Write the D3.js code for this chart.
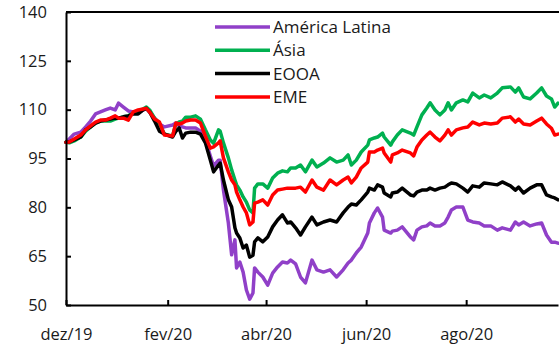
<!DOCTYPE html>
<html><head><meta charset="utf-8">
<script src="https://cdn.jsdelivr.net/npm/d3@7/dist/d3.min.js"></script>
<style>
body{margin:0;background:#fff}
text{font-family:"Open Sans",sans-serif}
</style>
</head><body>
<svg id="c" width="559" height="346"></svg>
<script>
const startDate = new Date(2019, 11, 1);
const endDate = new Date(2020, 8, 26);
const days = [0,2,5,9,12,15,18,21,24,27,
30,32,35,38,41,44,47,49,51,54,
57,60,65,67,69,71,73,76,79,82,
85,88,90,93,94,96,99,101,103,104,
106,108,110,112,114,115,117,120,123,126,
129,132,135,137,140,143,146,150,153,157,
161,165,169,172,174,177,180,184,185,188,
190,193,194,198,199,202,205,210,212,214,
217,220,222,225,228,231,233,235,238,242,
245,248,252,255,259,263,266,271,274,276,
279,283,287,290,293,296,298,300];

const americaLatina = [100,101.0,102.5,103.1,104.7,106.5,108.7,109.3,109.9,110.5,
109.9,112.0,110.8,109.6,109.3,109.0,109.9,110.4,109.3,107.4,
105.6,104.7,105.3,105.9,105.0,104.7,104.4,104.4,104.4,103.4,
100.7,95.8,92.7,94.5,94.5,85.3,75.2,65.4,70.0,61.4,
63.2,60.1,54.6,51.8,53.7,61.4,60.1,58.6,56.1,59.8,
61.7,63.2,62.9,63.8,62.6,58.6,56.8,63.8,60.8,60.1,
60.8,58.6,60.8,62.9,63.8,66.0,67.8,72.1,75.2,78.3,
79.8,77.0,73.0,72.1,72.7,73.0,74.0,70.9,70.0,73.0,
74.0,74.3,75.2,74.3,74.3,75.2,77.0,79.2,80.1,80.1,
76.1,75.5,75.2,74.3,74.3,73.0,73.7,73.0,75.5,74.6,
75.5,74.3,74.9,75.2,71.5,69.3,69.3,69.0];

const asia = [100,99.8,100.4,101.6,103.4,104.7,105.9,106.5,106.5,106.5,
107.1,107.4,107.8,108.1,109.0,109.6,110.2,110.8,109.9,107.4,
105.6,102.5,101.9,105.6,106.2,106.5,107.7,107.7,108.1,107.1,
103.8,100.7,99.7,103.8,103.4,99.8,95.2,91.5,88.4,86.9,
85.3,83.2,81.6,79.2,78.3,85.9,87.2,87.2,85.9,89.0,
90.5,91.2,90.9,92.1,92.1,93.0,90.9,94.5,92.4,93.6,
95.2,93.9,94.5,96.1,93.0,94.5,97.0,99.1,100.7,101.3,
101.6,102.8,101.6,99.1,100.1,102.2,103.8,102.8,102.2,104.7,
108.4,110.5,112.1,109.9,108.4,109.9,112.1,109.9,112.1,113.0,
112.4,115.1,113.6,114.5,113.6,115.1,116.7,117.0,115.4,116.7,
113.9,113.3,115.1,116.7,114.2,113.3,110.8,112.0];

const eooa = [100,100.1,100.7,101.6,103.8,104.7,105.9,106.5,106.8,107.1,
107.4,107.4,107.8,108.1,108.7,108.7,109.9,110.4,109.3,106.5,
103.4,102.5,101.6,103.4,104.4,101.3,102.8,103.1,103.1,102.5,
99.8,94.5,90.9,93.0,93.6,88.4,82.3,80.1,73.7,72.1,
70.6,67.5,68.4,64.7,65.3,69.4,70.6,69.4,70.9,74.0,
76.1,77.7,75.2,75.5,73.7,71.5,74.0,77.0,74.6,75.5,
76.1,75.5,78.3,80.1,81.0,80.7,82.3,84.7,85.9,85.3,
86.9,86.2,84.4,83.2,84.4,84.7,85.9,83.8,83.5,84.7,
85.3,85.3,85.9,85.3,85.9,86.2,86.9,87.5,87.2,85.9,
84.7,86.6,86.2,87.5,87.2,86.9,87.8,86.6,85.3,86.2,
84.4,85.9,86.9,86.9,83.8,83.2,82.9,82.3];

const eme = [100,100.1,101.0,102.2,103.8,105.0,106.2,106.8,106.8,107.4,
108.1,107.4,107.4,106.8,109.3,109.9,110.2,110.4,109.3,107.1,
106.2,102.2,101.9,105.9,105.6,105.9,106.5,106.8,106.8,105.9,
101.9,98.2,98.6,99.8,100.4,95.2,90.9,88.4,86.9,84.7,
82.3,80.1,78.3,74.6,75.5,81.3,81.6,82.3,80.7,83.8,
85.3,85.6,85.9,85.9,85.9,86.2,84.7,88.4,86.2,85.3,
88.4,86.9,88.4,89.3,87.5,89.3,92.1,93.9,97.0,97.0,
97.6,98.2,96.7,93.9,96.1,96.7,97.6,96.7,95.8,98.5,
100.7,102.2,103.1,101.6,100.4,102.2,103.8,102.2,103.8,104.4,
104.7,106.2,105.3,105.9,105.6,105.9,107.4,107.8,106.2,107.1,
105.6,105.3,106.5,107.4,105.6,104.3,102.2,102.5];

const seriesNames = ["América Latina", "Ásia", "EOOA", "EME"];
const seriesValues = [americaLatina, asia, eooa, eme];
const seriesColors = ["#9040c8", "#00b050", "#000000", "#ff0000"];
const yTicks = [50, 65, 80, 95, 110, 125, 140];
const xTickDates = [new Date(2019,11,1), new Date(2020,1,1), new Date(2020,3,1), new Date(2020,5,1), new Date(2020,7,1)];
const xTickLabels = ["dez/19", "fev/20", "abr/20", "jun/20", "ago/20"];

const svg = d3.select("#c");
const L = 66, R = 558, T = 12, B = 305;
const x = d3.scaleTime().domain([startDate, endDate]).range([L, R]);
const y = d3.scaleLinear().domain([50, 140]).range([B, T]);
const dates = days.map(d => d3.timeDay.offset(startDate, d));

// series
const line = d3.line().x((d, i) => x(dates[i])).y(d => y(d));
seriesValues.forEach((vals, k) => {
  svg.append("path").datum(vals)
    .attr("d", line)
    .attr("fill", "none")
    .attr("stroke", seriesColors[k])
    .attr("stroke-width", 3.5)
    .attr("stroke-linejoin", "round")
    .attr("stroke-linecap", "round");
});

// top border
svg.append("line").attr("x1", L).attr("x2", 559).attr("y1", T).attr("y2", T)
  .attr("stroke", "#000").attr("stroke-width", 2);

// axes
const yAxis = d3.axisLeft(y).tickValues(yTicks).tickSize(-5).tickSizeOuter(0).tickPadding(19);
const gy = svg.append("g").attr("transform", `translate(${L},0)`).call(yAxis);
const xAxis = d3.axisBottom(x).tickValues(xTickDates).tickSize(-5).tickSizeOuter(0).tickPadding(23)
  .tickFormat((d, i) => xTickLabels[i]);
const gx = svg.append("g").attr("transform", `translate(0,${B})`).call(xAxis);
[gx, gy].forEach(g => {
  g.select(".domain").attr("stroke", "#000").attr("stroke-width", 2);
  g.selectAll(".tick line").attr("stroke", "#000").attr("stroke-width", 2);
  g.selectAll(".tick text").attr("fill", "#1a1a1a").style("font-size", "16.5px")
    .style("font-family", '"Open Sans", sans-serif');
});

// legend
const lg = svg.append("g");
seriesNames.forEach((n, k) => {
  const yy = 27 + k * 23.3;
  lg.append("line").attr("x1", 215).attr("x2", 270).attr("y1", yy).attr("y2", yy)
    .attr("stroke", seriesColors[k]).attr("stroke-width", 3.5);
  lg.append("text").attr("x", 273).attr("y", yy).attr("dy", "0.35em")
    .attr("fill", "#1a1a1a").style("font-size", "17px").text(n);
});
</script>
</body></html>
